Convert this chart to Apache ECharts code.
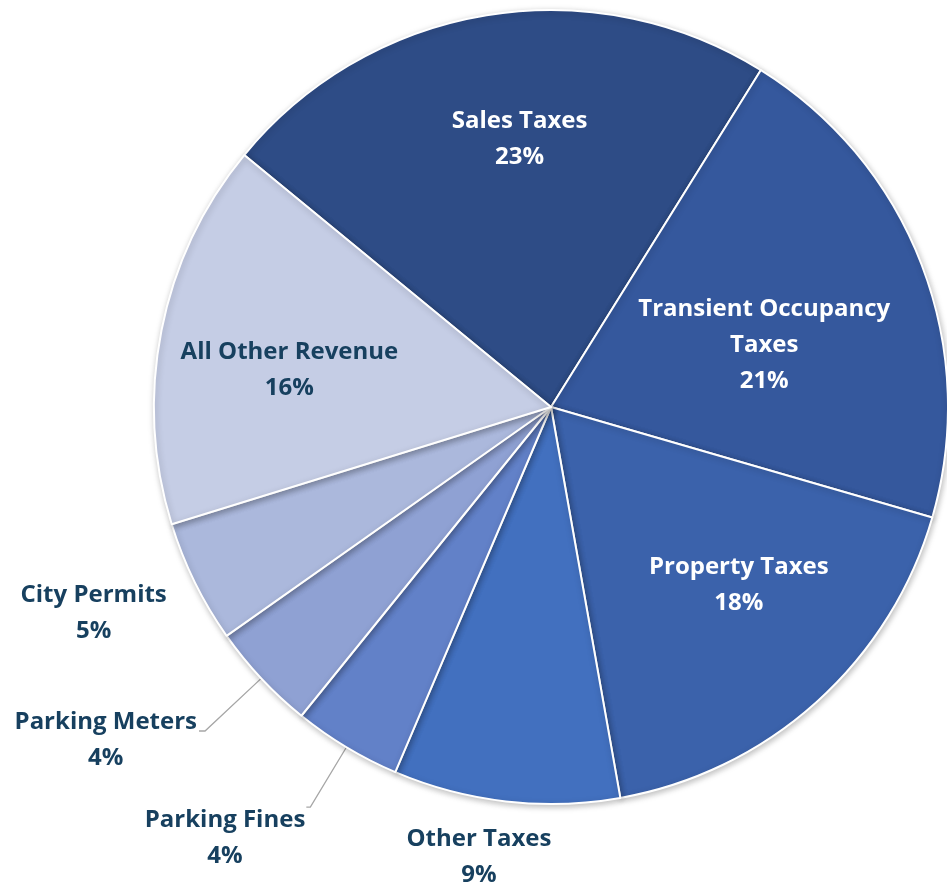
<!DOCTYPE html>
<html><head><meta charset="utf-8">
<script src="https://cdn.jsdelivr.net/npm/echarts@6/dist/echarts.min.js"></script>
<style>html,body{margin:0;padding:0;background:#fff}#c{width:947px;height:888px}</style>
</head><body><div id="c"></div>
<script>
const categories = ['Sales Taxes','Transient Occupancy\nTaxes','Property Taxes','Other Taxes','Parking Fines','Parking Meters','City Permits','All Other Revenue'];
const values = [22.9, 20.6, 17.7, 9.2, 4.4, 4.4, 5.0, 15.7];
const colors = ['#2E4C86','#35589D','#3B62AB','#4270BF','#6281C8','#8FA1D3','#ABB8DC','#C5CDE5'];
const insideLabels = [true, true, true, false, false, false, false, true];

const dark = '#17405F';
const font = {fontFamily:'Open Sans', fontWeight:'bold', fontSize:24, lineHeight:36};
const center = [551, 407];
const R = 397;

const insideOffset = {
  'Sales Taxes':[11,-10],
  'Transient Occupancy\nTaxes':[-31,32],
  'Property Taxes':[13,-16],
  'All Other Revenue':[-5,14]
};
const outsideCfg = {
  'Other Taxes': {line:false, length:40, length2:0, offset:[55,16]},
  'Parking Fines': {line:true, length:70, length2:4, offset:[4,31]},
  'Parking Meters': {line:true, length:77, length2:6, offset:[3,9]},
  'City Permits': {line:false, length:20, length2:0, offset:[-5,22]}
};

function lbl(color){
  return Object.assign({color:color, formatter:'{c|{b}}\n{c|{d}%}',
    rich:{c:Object.assign({align:'center', color:color}, font)}}, font);
}

const mainData = categories.map((c,i)=>{
  const o = outsideCfg[c];
  const d = {name:c, value:values[i], itemStyle:{color:colors[i]}};
  if (o) {
    d.label = Object.assign({show:true, position:'outside', offset:o.offset}, lbl(dark));
    d.labelLine = {show:o.line, length:o.length, length2:o.length2, lineStyle:{color:'#A6A6A6', width:1.3}};
  } else {
    d.label = {show:false};
    d.labelLine = {show:false};
  }
  return d;
});
const overlayData = categories.map((c,i)=>({
  name:c, value:values[i],
  label: Object.assign({show:insideLabels[i], position:'inside', offset:insideOffset[c]||[0,0]}, lbl(i===7 ? dark : '#ffffff'))
}));

const chart = echarts.init(document.getElementById('c'), null, {renderer:'canvas'});
chart.setOption({
  animation:false,
  series:[
    {type:'pie', center:center, radius:[0,R], startAngle:140.6, clockwise:true, percentPrecision:0,
     avoidLabelOverlap:false,
     itemStyle:{borderColor:'#fff', borderWidth:2, shadowBlur:6, shadowColor:'rgba(0,0,0,0.25)', shadowOffsetX:1, shadowOffsetY:2},
     data:mainData, z:2},
    {type:'pie', center:center, radius:[120,R], startAngle:140.6, clockwise:true, percentPrecision:0,
     silent:true, avoidLabelOverlap:false,
     itemStyle:{color:'rgba(0,0,0,0)', borderWidth:0},
     labelLine:{show:false},
     data:overlayData, z:3}
  ]
});
</script></body></html>
